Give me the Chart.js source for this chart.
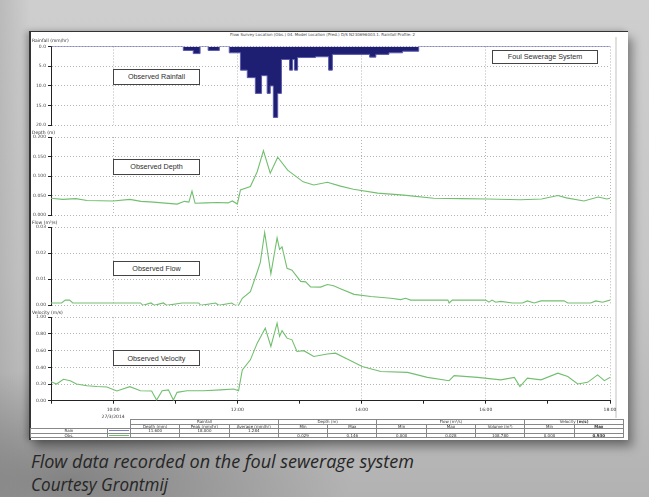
<!DOCTYPE html>
<html lang="en">
<head>
  <meta charset="UTF-8" />
  <title>Flow Survey - Foul Sewerage System</title>
  <script src="https://cdn.jsdelivr.net/npm/chart.js"></script>
  <style>
    html, body { margin: 0; padding: 0; }
    body {
      width: 649px; height: 497px; position: relative; overflow: hidden;
      background:
        radial-gradient(ellipse 280px 110px at 70px 480px, rgba(110,110,110,0.7), rgba(110,110,110,0) 100%),
        linear-gradient(90deg, rgba(150,150,150,0.35) 0px, rgba(150,150,150,0) 30px),
        linear-gradient(180deg, #cecece 0%, #c6c6c6 55%, #b2b2b2 100%);
      font-family: "Liberation Sans", Arial, sans-serif;
    }
    .sheet {
      position: absolute; left: 29px; top: 31px; width: 599px; height: 409px;
      background: #fff; border-top: 1.5px solid #333; border-left: 2px solid #333;
      box-sizing: border-box;
      box-shadow: -3px 0 6px rgba(0,0,0,0.25), 5px 7px 9px rgba(0,0,0,0.35);
    }
    .edge { position: absolute; left: 615px; top: 37px; width: 2px; height: 381px; background: #e0e0e0; }
    canvas { position: absolute; left: 30px; }
    .unit { position: absolute; left: 32px; font: 4.5px "DejaVu Sans", sans-serif; color: #333; white-space: nowrap; }
    .note {
      position: absolute; background: #fff; border: 1.3px solid #444; box-sizing: border-box;
      font-size: 7.2px; color: #2e2e2e; text-align: center; white-space: nowrap;
      display: flex; align-items: center; justify-content: center;
    }
    .title { position: absolute; left: 230px; top: 32px; font: 4px "DejaVu Sans", sans-serif; color: #444; white-space: nowrap; }
    #stats {
      position: absolute; left: 30px; top: 419px; border-collapse: collapse; table-layout: fixed;
      font: 4px "DejaVu Sans", sans-serif; color: #333;
    }
    #stats td { border: 0.8px solid #888; height: 3.6px; line-height: 3.6px; padding: 0; text-align: center; overflow: hidden; white-space: nowrap; }
    #stats td.nb { border: none; }
    .caption {
      position: absolute; left: 31px; font: italic 18px "Open Sans", "Noto Sans", sans-serif; color: #262626;
      white-space: nowrap; transform-origin: left top;
    }
  </style>
</head>
<body>
  <div class="sheet"></div>
  <div class="edge"></div>
  <div class="title">Flow Survey Location (Obs.) 04. Model Location (Pred.) D/S N230696003.1. Rainfall Profile: 2</div>

  <canvas id="rain" width="600" height="100" style="top:30px"></canvas>
  <canvas id="depth" width="600" height="92" style="top:128px"></canvas>
  <canvas id="flow" width="600" height="92" style="top:218px"></canvas>
  <canvas id="velocity" width="600" height="112" style="top:308px"></canvas>

  <div class="unit" style="top:37.5px">Rainfall (mm/hr)</div>
  <div class="unit" style="top:130px">Depth (m)</div>
  <div class="unit" style="top:219.5px">Flow (m³/s)</div>
  <div class="unit" style="top:310px">Velocity (m/s)</div>

  <div class="note" style="left:113px;top:68.5px;width:87px;height:16px">Observed Rainfall</div>
  <div class="note" style="left:492px;top:50px;width:106px;height:13.5px">Foul Sewerage System</div>
  <div class="note" style="left:113px;top:159px;width:87px;height:15.5px">Observed Depth</div>
  <div class="note" style="left:113px;top:260.5px;width:87px;height:15.5px">Observed Flow</div>
  <div class="note" style="left:113px;top:350px;width:87px;height:16px">Observed Velocity</div>

  <table id="stats"></table>

  <div class="caption" id="cap1" style="top:449px">Flow data recorded on the foul sewerage system</div>
  <div class="caption" id="cap2" style="top:472px">Courtesy Grontmij</div>

  <script>
    // time in decimal hours on 27/3/2014
    const rainHours = [9.0, 11.13, 11.29, 11.40, 11.53, 11.71, 11.87, 12.05, 12.16, 12.29, 12.39, 12.48, 12.53, 12.58, 12.65, 12.71, 12.84, 12.89, 12.92, 12.97, 13.26, 13.47, 13.53, 14.13, 14.23, 14.44, 14.66, 14.92, 18.0];
    const rainValues = [0, 1.0, 1.8, 0, 1.0, 0, 1.6, 6.0, 7.9, 11.9, 7.4, 11.9, 10.0, 18.0, 11.9, 3.3, 6.0, 3.3, 6.0, 2.8, 2.6, 6.0, 2.0, 2.7, 2.0, 1.6, 1.2, 0, 0];

    const depthHours = [9.0, 9.19, 9.4, 9.58, 10.0, 10.27, 10.45, 10.65, 11.03, 11.15, 11.22, 11.27, 11.32, 11.5, 11.68, 11.85, 11.92, 12.0, 12.05, 12.21, 12.32, 12.42, 12.53, 12.65, 12.81, 13.06, 13.23, 13.45, 13.66, 13.87, 14.26, 14.68, 15.16, 15.6, 16.03, 16.56, 16.9, 17.16, 17.3, 17.58, 17.81, 17.95, 18.0];
    const depthValues = [0.043, 0.040, 0.042, 0.037, 0.036, 0.040, 0.035, 0.033, 0.028, 0.035, 0.033, 0.061, 0.030, 0.031, 0.032, 0.031, 0.036, 0.028, 0.064, 0.073, 0.111, 0.165, 0.107, 0.148, 0.115, 0.085, 0.077, 0.084, 0.074, 0.066, 0.056, 0.051, 0.043, 0.042, 0.041, 0.039, 0.041, 0.050, 0.044, 0.036, 0.046, 0.041, 0.043];

    const flowHours = [9.0, 9.17, 9.23, 9.3, 9.35, 10.44, 10.48, 10.61, 10.66, 10.81, 10.86, 11.11, 11.38, 11.41, 11.65, 11.7, 11.91, 11.96, 12.02, 12.08, 12.21, 12.32, 12.37, 12.44, 12.54, 12.64, 12.68, 12.72, 12.8, 12.88, 13.02, 13.1, 13.18, 13.34, 13.45, 13.55, 13.65, 13.88, 14.15, 14.47, 14.63, 14.71, 14.79, 15.39, 15.41, 15.46, 16.0, 16.05, 16.1, 16.16, 16.24, 16.43, 16.59, 16.67, 16.78, 16.89, 17.26, 17.32, 17.42, 17.69, 17.77, 17.88, 18.0];
    const flowValues = [0.0009, 0.0009, 0.002, 0.002, 0.0009, 0.0009, 0.0, 0.0009, 0.0, 0.0009, 0.0, 0.0009, 0.0009, 0.0, 0.0009, 0.0, 0.0009, 0.0, 0.0, 0.0027, 0.0052, 0.0128, 0.0165, 0.028, 0.0121, 0.0259, 0.0215, 0.0225, 0.0142, 0.0135, 0.0092, 0.009, 0.0071, 0.007, 0.008, 0.0075, 0.0065, 0.0042, 0.0034, 0.0027, 0.0022, 0.0027, 0.002, 0.002, 0.0009, 0.002, 0.002, 0.0012, 0.002, 0.0012, 0.0015, 0.0009, 0.0009, 0.0017, 0.0009, 0.0017, 0.0017, 0.0009, 0.0009, 0.0009, 0.0017, 0.0012, 0.002];

    const velocityHours = [9.0, 9.09, 9.2, 9.31, 9.41, 9.58, 9.74, 9.9, 10.06, 10.27, 10.44, 10.62, 10.7, 10.79, 10.89, 10.97, 11.03, 11.19, 11.46, 11.73, 11.94, 12.02, 12.08, 12.21, 12.32, 12.45, 12.54, 12.64, 12.68, 12.72, 12.8, 12.88, 12.96, 13.07, 13.23, 13.45, 13.58, 13.77, 14.01, 14.31, 14.74, 15.06, 15.41, 15.49, 15.87, 16.24, 16.46, 16.55, 16.67, 16.89, 17.16, 17.32, 17.48, 17.64, 17.8, 17.91, 18.0];
    const velocityValues = [0.228, 0.20, 0.257, 0.24, 0.20, 0.18, 0.17, 0.164, 0.116, 0.168, 0.12, 0.116, 0.008, 0.12, 0.13, 0.008, 0.10, 0.12, 0.12, 0.13, 0.14, 0.12, 0.368, 0.49, 0.69, 0.87, 0.65, 0.93, 0.77, 0.84, 0.75, 0.73, 0.59, 0.60, 0.53, 0.56, 0.57, 0.50, 0.41, 0.35, 0.34, 0.28, 0.24, 0.30, 0.28, 0.25, 0.28, 0.17, 0.27, 0.25, 0.33, 0.29, 0.20, 0.22, 0.31, 0.24, 0.28];

    const hourTicks = [9, 10, 11, 12, 13, 14, 15, 16, 17, 18];

    // summary table
    const rainfallHeads = ['Depth (mm)', 'Peak (mm/hr)', 'Average (mm/hr)'];
    const rainStats = ['11.600', '18.000', '1.284'];
    const obsStats = ['0.029', '0.146', '0.000', '0.028', '108.780', '0.000', '0.930'];

    const green = '#72bf6f';
    const gridColor = '#b4b4b4';

    function toPoints(xs, ys) {
      return xs.map((x, i) => ({ x: x, y: ys[i] }));
    }

    function xAxis(showLabels) {
      return {
        type: 'linear', min: 9, max: 18,
        afterBuildTicks: s => { s.ticks = hourTicks.map(v => ({ value: v })); },
        afterFit: s => { s.height = showLabels ? 19.3 : 0; },
        grid: {
          color: c => (c.tick && c.tick.value % 2 === 0) ? gridColor : 'rgba(0,0,0,0)',
          drawTicks: showLabels, tickLength: 3, tickColor: '#222'
        },
        border: { display: showLabels, color: '#222', dash: [1, 2] },
        ticks: {
          display: showLabels, autoSkip: false, maxRotation: 0, padding: 3,
          font: { family: 'DejaVu Sans', size: 4.5, lineHeight: 1.5 }, color: '#333',
          callback: v => v === 10 ? ['10:00', '27/3/2014'] : (v % 2 === 0 ? v + ':00' : '')
        }
      };
    }

    function yAxis(min, max, step, digits, reverse) {
      return {
        min: min, max: max, reverse: !!reverse,
        afterFit: s => { s.width = 19; },
        grid: { color: gridColor, tickColor: '#222', tickLength: 3 },
        border: { color: '#222', width: 1, dash: [1, 2] },
        ticks: {
          stepSize: step, padding: 2, color: '#444',
          font: { family: 'DejaVu Sans', size: 4.5 },
          callback: v => Number(v).toFixed(digits)
        }
      };
    }

    function makeChart(id, dataset, y, showX, pad) {
      return new Chart(document.getElementById(id), {
        type: 'line',
        data: { datasets: [dataset] },
        options: {
          responsive: false, animation: false, devicePixelRatio: 1,
          layout: { padding: pad },
          plugins: { legend: { display: false }, tooltip: { enabled: false } },
          elements: { point: { radius: 0 } },
          scales: { x: xAxis(showX), y: y }
        }
      });
    }

    makeChart('rain', {
      data: toPoints(rainHours, rainValues), stepped: true, fill: 'origin',
      borderColor: '#5c5cae', borderWidth: 1, backgroundColor: '#1e1e72'
    }, yAxis(0, 20, 5, 1, true), false, { left: 2, right: 20, top: 16.5, bottom: 3.7 });

    makeChart('depth', {
      data: toPoints(depthHours, depthValues), borderColor: green, borderWidth: 1.1, fill: false
    }, yAxis(0, 0.2, 0.05, 3), false, { left: 2, right: 20, top: 9, bottom: 5 });

    makeChart('flow', {
      data: toPoints(flowHours, flowValues), borderColor: green, borderWidth: 1.1, fill: false
    }, yAxis(0, 0.03, 0.01, 2), false, { left: 2, right: 20, top: 9.3, bottom: 2.7 });

    makeChart('velocity', {
      data: toPoints(velocityHours, velocityValues), borderColor: green, borderWidth: 1.1, fill: false
    }, yAxis(0, 1, 0.2, 2), true, { left: 2, right: 20, top: 9.3, bottom: 0 });

    // build summary table
    const table = document.getElementById('stats');
    const widths = [77, 23].concat(new Array(10).fill(49.3));
    table.innerHTML = '<colgroup>' + widths.map(w => '<col style="width:' + w + 'px">').join('') + '</colgroup>';
    function addRow(cells) {
      const tr = document.createElement('tr');
      cells.forEach(c => {
        const td = document.createElement('td');
        if (c.cls) td.className = c.cls;
        if (c.span) td.colSpan = c.span;
        if (c.html) td.innerHTML = c.html; else td.textContent = c.text || '';
        tr.appendChild(td);
      });
      table.appendChild(tr);
    }
    const legendLine = col => '<div style="height:1px;background:' + col + ';margin:0 1px"></div>';
    addRow([{ cls: 'nb' }, { cls: 'nb' }, { text: 'Rainfall', span: 3 }, { text: 'Depth (m)', span: 2 },
            { text: 'Flow (m³/s)', span: 3 }, { html: 'Velocity <b>(m/s)</b>', span: 2 }]);
    addRow([{ cls: 'nb' }, { cls: 'nb' }].concat(rainfallHeads.map(t => ({ text: t })))
      .concat(['Min', 'Max', 'Min', 'Max', 'Volume (m³)', 'Min'].map(t => ({ text: t })))
      .concat([{ html: '<b>Max</b>' }]));
    addRow([{ text: 'Rain' }, { html: legendLine('#8080c8') }].concat(rainStats.map(t => ({ text: t })))
      .concat(new Array(7).fill({ text: '' })));
    addRow([{ text: 'Obs.' }, { html: legendLine(green) }].concat(new Array(3).fill({ text: '' }))
      .concat(obsStats.map((t, i) => i === obsStats.length - 1 ? { html: '<b>' + t + '</b>' } : { text: t })));

    // caption widths matched to the photo
    [['cap1', 383], ['cap2', 137]].forEach(([id, w]) => {
      const el = document.getElementById(id);
      const k = w / el.getBoundingClientRect().width;
      el.style.transform = 'scaleX(' + k.toFixed(3) + ')';
    });
  </script>
</body>
</html>
